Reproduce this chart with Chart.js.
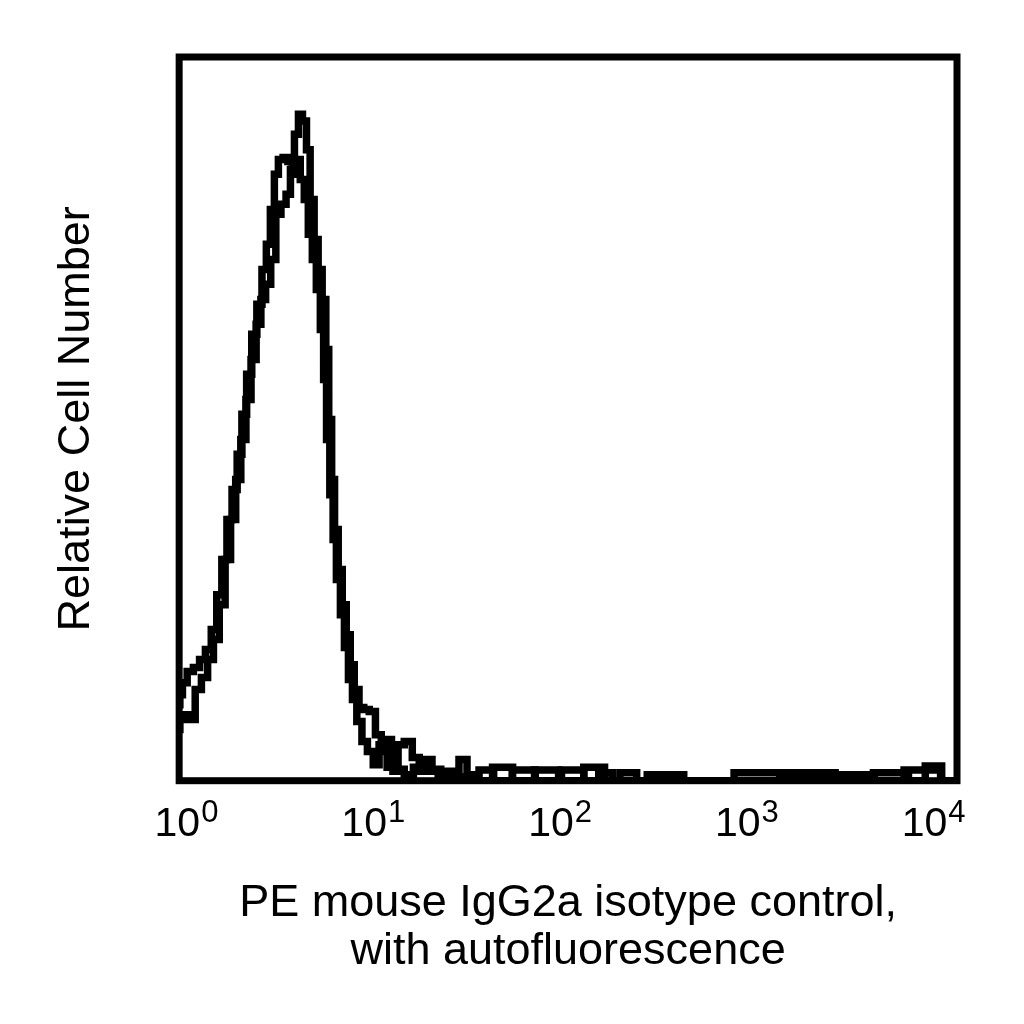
<!DOCTYPE html>
<html>
<head>
<meta charset="utf-8">
<script src="https://cdn.jsdelivr.net/npm/chart.js@4.4.1/dist/chart.umd.min.js"></script>
<style>
  html, body { margin: 0; padding: 0; background: #fff; }
  #wrap { width: 1024px; height: 1024px; }
</style>
</head>
<body>
<div id="wrap"><canvas id="histo" width="1024" height="1024"></canvas></div>
<script>
// channels on a 1024-channel / 4-decade log scale, counts as % of the peak
var chA = [-10, -8, -3, 5, 14, 22, 30, 38, 45, 52, 59, 66, 73, 79, 86, 93, 100, 107, 112, 118,
  123, 129, 136, 142, 148, 153, 159, 164, 170, 175, 181, 186, 190, 194, 199, 203, 208, 214, 219, 225,
  230, 237, 244, 252, 260, 268, 277, 285, 293, 304, 318, 329, 340, 350, 361, 375, 386, 416, 426, 467,
  489, 539, 550, 580, 587, 676, 687, 939, 946, 1021, 1046, 1056];
var countA = [11.4, 12.9, 14.7, 16.4, 17, 18.2, 19.7, 22.7, 27.9, 33.2, 39.2, 43.7, 49, 55, 61, 67, 71.5, 76.7, 80.5, 85.7,
  91, 93.2, 93.5, 92.9, 91, 93.2, 90.2, 87.2, 82, 78.2, 73.7, 67.7, 60.2, 51.2, 42.9, 36.2, 30.2, 24.9, 20, 15.2,
  12.2, 8.9, 5.9, 4.4, 2.4, 5.4, 6.2, 2.9, 1.7, 0.9, 2, 2.9, 1.4, 0.8, 1.4, 0.6, 0, 1.6, 0, 1.6,
  0, 1.6, 0, 1.2, 0, 0.9, 0, 0.9, 0, 1.6, 0, 0];

var chB = [-10, -8, 0, 8, 16, 25, 33, 41, 49, 57, 64, 71, 78, 85, 92, 99, 105, 112, 119, 126,
  133, 140, 145, 151, 156, 162, 167, 172, 178, 183, 189, 193, 197, 201, 205, 211, 216, 222, 227, 233,
  240, 246, 255, 263, 271, 279, 287, 293, 304, 315, 323, 331, 342, 355, 368, 379, 390, 398, 441, 453,
  501, 519, 570, 576, 612, 622, 879, 899, 984, 995, 1030, 1040, 1056];
var countB = [7.7, 9.2, 9.9, 9.2, 13.7, 15.5, 18.2, 21.2, 26.4, 33.2, 39.2, 45.2, 51.2, 57.2, 63.2, 68.5, 72.2, 74.5, 78.2, 85,
  86.5, 88, 91.7, 97, 100, 99, 94.7, 87.2, 81.2, 76.7, 72.2, 64.7, 54.2, 45.2, 37.7, 31.7, 26.4, 21.9, 17.4, 13.7,
  11, 10.7, 10.4, 6.9, 4.4, 2, 1.4, 5.4, 5.9, 3.5, 1.4, 3.2, 1.7, 1.2, 0.8, 3.2, 0.9, 0, 2, 0,
  1.6, 0, 2, 0, 1.2, 0, 1.2, 0, 1.2, 0, 2.2, 0, 0];

var tickExponents = [0, 1, 2, 3, 4];
var xTitle = ['PE mouse IgG2a isotype control,', 'with autofluorescence'];
var yTitle = 'Relative Cell Number';

var FONT = '"Liberation Sans", Arial, Helvetica, sans-serif';

function toIntensity(ch) {
  return Math.pow(10, ch / 256);
}

function toPoints(chs, counts) {
  return chs.map(function (c, i) { return { x: toIntensity(c), y: counts[i] }; });
}

// frame round the plot area
var framePlugin = {
  id: 'frame',
  afterDatasetsDraw: function (chart) {
    var a = chart.chartArea;
    var ctx = chart.ctx;
    ctx.save();
    ctx.strokeStyle = '#000';
    ctx.lineWidth = 7;
    ctx.strokeRect(a.left, a.top, a.right - a.left, a.bottom - a.top);
    ctx.restore();
  }
};

// 10^n tick labels with a raised exponent
var powerTicks = {
  id: 'powerTicks',
  afterDraw: function (chart) {
    var ctx = chart.ctx;
    var xs = chart.scales.x;
    var y = chart.chartArea.bottom + 55;
    ctx.save();
    ctx.fillStyle = '#000';
    ctx.textBaseline = 'alphabetic';
    ctx.textAlign = 'left';
    tickExponents.forEach(function (e) {
      var px = xs.getPixelForValue(Math.pow(10, e));
      ctx.font = '41px ' + FONT;
      var wBase = ctx.measureText('10').width;
      ctx.font = '31px ' + FONT;
      var wExp = ctx.measureText(String(e)).width;
      var left = px - (wBase + 1 + wExp) / 2;
      ctx.font = '41px ' + FONT;
      ctx.fillText('10', left, y);
      ctx.font = '31px ' + FONT;
      ctx.fillText(String(e), left + wBase + 1, y - 14);
    });
    ctx.restore();
  }
};

var lineStyle = {
  borderColor: '#000',
  borderWidth: 7.5,
  pointRadius: 0,
  fill: false,
  stepped: 'middle',
  borderJoinStyle: 'miter',
  borderCapStyle: 'butt'
};

new Chart(document.getElementById('histo'), {
  type: 'line',
  data: {
    datasets: [
      Object.assign({ label: 'isotype A', data: toPoints(chA, countA) }, lineStyle),
      Object.assign({ label: 'isotype B', data: toPoints(chB, countB) }, lineStyle)
    ]
  },
  options: {
    responsive: false,
    animation: false,
    devicePixelRatio: 1,
    layout: { padding: { left: 0, right: 67, top: 57, bottom: 0 } },
    plugins: {
      legend: { display: false },
      tooltip: { enabled: false }
    },
    scales: {
      x: {
        type: 'logarithmic',
        min: toIntensity(-10),
        max: toIntensity(1056),
        afterBuildTicks: function (scale) {
          scale.ticks = tickExponents.map(function (e) { return { value: Math.pow(10, e) }; });
        },
        ticks: { display: false },
        grid: { display: false, drawTicks: false },
        border: { display: false },
        title: {
          display: true,
          text: xTitle,
          color: '#000',
          font: { family: FONT, size: 45, lineHeight: 1.07 },
          padding: { top: 99, bottom: 48 }
        }
      },
      y: {
        min: 0,
        max: 108.6,
        ticks: { display: false },
        grid: { display: false, drawTicks: false },
        border: { display: false },
        title: {
          display: true,
          text: yTitle,
          color: '#000',
          font: { family: FONT, size: 45, lineHeight: 1.07 },
          padding: { top: 53, bottom: 78 }
        }
      }
    }
  },
  plugins: [framePlugin, powerTicks]
});
</script>
</body>
</html>
